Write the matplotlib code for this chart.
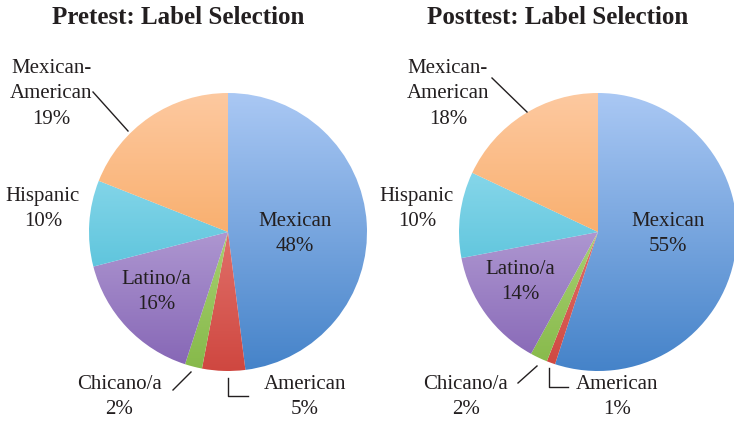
import numpy as np
import matplotlib
matplotlib.use('Agg')
import matplotlib.pyplot as plt
from matplotlib.colors import LinearSegmentedColormap

plt.rcParams['font.family'] = ['Liberation Serif', 'DejaVu Serif']

# ── data ──────────────────────────────────────────────────────────────────────
categories = ['Mexican', 'American', 'Chicano/a', 'Latino/a', 'Hispanic', 'Mexican-\nAmerican']
pretest = [48, 5, 2, 16, 10, 19]
posttest = [55, 1, 2, 14, 10, 18]
titles = ['Pretest: Label Selection', 'Posttest: Label Selection']

# light (top) -> dark (bottom) gradient per slice
GRADS = [
    ('#aac8f4', '#4583c9'),  # Mexican
    ('#f29a94', '#cf4740'),  # American
    ('#c9e697', '#86b94a'),  # Chicano/a
    ('#d6c8ec', '#8565b5'),  # Latino/a
    ('#a6e4f4', '#35b3cf'),  # Hispanic
    ('#fdc9a0', '#f5963e'),  # Mexican-American
]

W, H = 734, 421
fig = plt.figure(figsize=(W / 100, H / 100), dpi=100)
ax = fig.add_axes([0, 0, 1, 1])

R = 139
centers = [(228, 232), (598, 232)]
title_x = [178, 558]

grad = np.linspace(0, 1, 256)[:, None]

for (cx, cy), vals, ttl, tx in zip(centers, [pretest, posttest], titles, title_x):
    wedges, _ = ax.pie(vals, center=(cx, cy), radius=R, startangle=-90,
                       counterclock=True, frame=True,
                       wedgeprops=dict(linewidth=0, facecolor='none'))
    for w, (c0, c1) in zip(wedges, GRADS):
        cmap = LinearSegmentedColormap.from_list('g', [c0, c1])
        im = ax.imshow(grad, cmap=cmap, aspect='auto', origin='upper',
                       extent=(cx - R, cx + R, cy + R, cy - R), zorder=1)
        im.set_clip_path(w)
    ax.text(tx, 18, ttl, ha='center', va='center', fontsize=18, fontweight='bold',
            color='#231f20')

ax.set_xlim(0, W)
ax.set_ylim(H, 0)
ax.set_aspect('equal')
ax.axis('off')

FS = 15
TC = '#231f20'

def lab(x, y, name, v):
    ax.text(x, y, f'{name}\n{v}%', ha='center', va='center', fontsize=FS,
            color=TC, linespacing=1.45, zorder=5)

# pretest labels
lab(295, 234, categories[0], pretest[0])
lab(156, 292, categories[3], pretest[3])
lab(43, 209, categories[4], pretest[4])
lab(51, 94, categories[5], pretest[5])
lab(119, 397, categories[2], pretest[2])
lab(305, 397, categories[1], pretest[1])
ax.plot([93, 128], [92, 131], color='#231f20', lw=1)
ax.plot([173, 191], [390, 372], color='#231f20', lw=1)
ax.plot([228, 228, 248], [378, 396, 396], color='#231f20', lw=1)

# posttest labels
lab(668, 234, categories[0], posttest[0])
lab(520, 282, categories[3], posttest[3])
lab(417, 209, categories[4], posttest[4])
lab(448, 94, categories[5], posttest[5])
lab(466, 397, categories[2], posttest[2])
lab(617, 397, categories[1], posttest[1])
ax.plot([492, 527], [78, 112], color='#231f20', lw=1)
ax.plot([518, 537], [383, 366], color='#231f20', lw=1)
ax.plot([549, 549, 568], [368, 387, 387], color='#231f20', lw=1)

fig.savefig('out.png', dpi=100)
